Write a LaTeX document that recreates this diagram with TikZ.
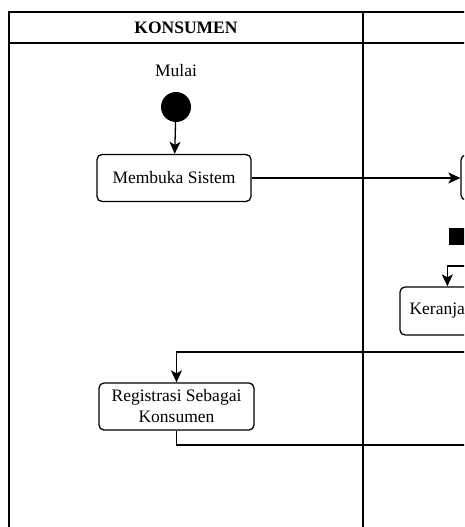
\documentclass[tikz,border=0pt]{standalone}
\usepackage{fontspec}
\setmainfont{Liberation Serif}
\usetikzlibrary{arrows.meta}
\begin{document}
\begin{tikzpicture}[x=1pt,y=-1pt,
  lane/.style={line width=1.6pt},
  act/.style={draw,line width=1.3pt,rounded corners=5pt,fill=white,
    font=\fontsize{17.5}{21}\selectfont,align=center,inner sep=0pt},
  flow/.style={line width=1.3pt,-{Stealth[length=12pt,width=11pt,inset=3pt]}},
  link/.style={line width=1.3pt},
  lbl/.style={font=\fontsize{17.5}{21}\selectfont,inner sep=0pt}]
\useasboundingbox (0,0) rectangle (464,527);
\clip (0,0) rectangle (464,527);

% swimlane frame
\draw[lane] (9,527) -- (9,12) -- (470,12);
\draw[lane] (9,43) -- (470,43);
\draw[lane] (363,12) -- (363,527);
\node[lbl,font=\fontsize{17.5}{21}\selectfont\bfseries] (lane1) at (186,28) {KONSUMEN};

% start
\node[lbl] (mulai) at (176,71) {Mulai};
\node (start) [circle,fill=black,minimum size=30pt,inner sep=0pt] at (176,107) {};

% activities
\node (buka) [act,minimum width=154pt,minimum height=47pt] at (174,178) {Membuka Sistem};
\node (sys) [act,minimum width=120pt,minimum height=45pt] at (521,177.5) {};
\node (bar) [fill=black,minimum width=60pt,minimum height=17pt,inner sep=0pt] at (479,236.5) {};
\node (ker) [act,minimum width=140pt,minimum height=48pt] at (470,311) {};
\node[lbl,anchor=west] (kertext) at ([xshift=10pt]ker.west) {Keranja};
\node (reg) [act,minimum width=155pt,minimum height=47pt] at (176.5,406.5) {Registrasi Sebagai\\Konsumen};

% connectors
\coordinate (kin) at (470,266);
\coordinate (rin) at (470,352);
\coordinate (rout) at (470,445);
\draw[flow] (start) -- (buka);
\draw[flow] (buka.east) -- (buka.east -| sys.west);
\draw[flow] (kin) -| ([xshift=48pt]ker.north west);
\draw[flow] (rin) -| (reg.north);
\draw[link] (reg.south) |- (rout);
\end{tikzpicture}
\end{document}
